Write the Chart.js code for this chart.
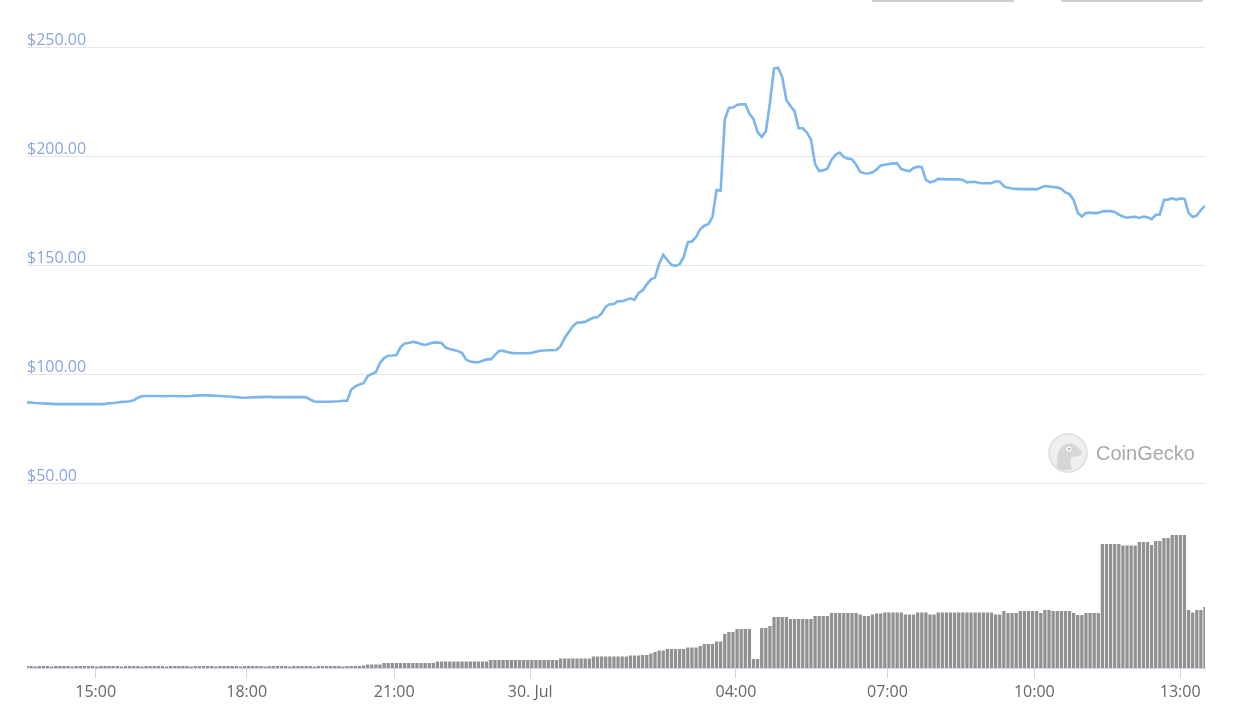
<!DOCTYPE html>
<html><head><meta charset="utf-8">
<script src="https://cdn.jsdelivr.net/npm/chart.js@4.4.0/dist/chart.umd.min.js"></script>
<style>
html,body{margin:0;padding:0;background:#fff;}
#wrap{position:relative;width:1234px;height:717px;overflow:hidden;background:#fff;}
canvas{position:absolute;left:0;top:0;}
.btnline{position:absolute;top:0;height:2px;background:#cfcfcf;}
#logo{position:absolute;left:1048px;top:433px;height:40px;display:flex;align-items:center;}
#logo span{font-family:"Liberation Sans",Arial,sans-serif;font-size:20px;color:#a9a9a9;margin-left:8px;}
</style></head>
<body>
<div id="wrap">
<canvas id="c" width="1234" height="717"></canvas>
<div class="btnline" style="left:872px;width:142px"></div>
<div class="btnline" style="left:1061px;width:142px"></div>
<div id="logo">
<svg width="40" height="40" viewBox="0 0 40 40">
<circle cx="20" cy="20" r="19" fill="#efefef" stroke="#dedede" stroke-width="1.5"/>
<path d="M9 35 C8 24 10 13 19 11 C25 10 29 13 31 16 C34 17 35 20 33 22 C31 24 27 23 24 24 C22 26 22 30 24 36 C18 38 12 37 9 35 Z" fill="#d6d6d6"/>
<circle cx="21" cy="16" r="2.6" fill="#fff"/>
<circle cx="21.3" cy="16" r="1.3" fill="#b5b5b5"/>
</svg>
<span>CoinGecko</span>
</div>
</div>
<script>
// Price (USD) for each 5-minute point
const price = [
87.0,86.9,86.7,86.6,86.5,86.4,86.3,86.2,86.2,86.2,
86.2,86.2,86.2,86.2,86.2,86.2,86.2,86.2,86.2,86.3,
86.6,86.7,86.9,87.2,87.3,87.5,87.9,89.1,89.8,89.9,
89.9,89.9,89.9,89.8,89.8,89.9,89.9,89.8,89.8,89.8,
89.9,90.1,90.2,90.2,90.2,90.1,90.0,89.9,89.8,89.7,
89.6,89.4,89.2,89.1,89.2,89.3,89.4,89.4,89.5,89.5,
89.4,89.4,89.4,89.4,89.4,89.4,89.4,89.4,89.3,88.3,
87.4,87.3,87.3,87.3,87.3,87.4,87.5,87.7,87.7,92.9,
94.3,95.2,95.8,99.0,100.0,100.9,105.1,107.3,108.4,108.5,
108.7,112.2,114.0,114.2,114.8,114.4,113.8,113.3,113.9,114.4,
114.5,114.2,112.1,111.5,111.0,110.5,109.6,106.6,105.7,105.4,
105.4,106.1,106.7,106.7,108.7,110.6,110.6,110.1,109.7,109.5,
109.5,109.5,109.5,109.7,110.2,110.7,110.8,110.9,110.9,111.0,
112.8,116.5,119.3,122.0,123.5,123.7,123.9,125.0,125.8,126.1,
127.8,130.9,132.0,132.1,133.5,133.4,134.0,134.7,134.0,137.2,
138.4,141.1,143.4,144.2,150.5,154.7,152.3,150.1,149.6,150.4,
153.7,160.5,160.8,162.8,166.4,168.0,168.7,172.0,184.4,184.1,
216.7,222.0,222.2,223.4,223.7,223.7,219.4,216.9,211.0,208.8,
211.3,224.3,240.1,240.5,236.2,225.7,222.9,220.6,212.7,212.7,
210.8,207.5,196.3,193.1,193.4,194.2,198.2,200.6,201.6,199.6,
198.8,198.5,196.0,192.7,192.1,192.0,192.5,193.8,195.7,196.0,
196.3,196.6,196.6,194.0,193.5,193.1,194.5,195.1,194.9,189.0,
187.9,188.4,189.5,189.4,189.3,189.3,189.3,189.3,189.0,187.9,
188.1,188.2,187.6,187.5,187.5,187.5,188.4,188.2,186.2,185.4,
185.1,184.9,184.8,184.8,184.8,184.8,184.7,185.5,186.2,186.0,
185.8,185.6,184.9,183.3,182.5,179.8,174.0,172.2,173.8,174.0,
173.8,173.9,174.6,174.7,174.7,174.3,173.1,172.2,171.7,172.0,
172.1,171.6,172.2,171.9,171.0,173.0,173.2,179.8,180.0,180.6,
180.0,180.5,180.4,173.9,172.0,172.7,175.2,177.1
];
// Volume (million USD) for each point
const volume = [
0.2,0.2,0.15,0.2,0.2,0.2,0.15,0.2,0.2,0.2,
0.2,0.15,0.2,0.2,0.2,0.2,0.2,0.15,0.2,0.2,
0.2,0.2,0.2,0.15,0.2,0.2,0.2,0.2,0.15,0.2,
0.2,0.2,0.2,0.2,0.15,0.2,0.2,0.2,0.2,0.2,
0.15,0.2,0.2,0.2,0.2,0.2,0.15,0.2,0.2,0.2,
0.2,0.2,0.15,0.2,0.2,0.2,0.2,0.2,0.15,0.2,
0.2,0.2,0.2,0.2,0.15,0.2,0.2,0.2,0.2,0.2,
0.15,0.2,0.2,0.2,0.2,0.2,0.2,0.15,0.2,0.2,
0.2,0.2,0.25,0.35,0.35,0.35,0.35,0.5,0.5,0.5,
0.5,0.5,0.5,0.5,0.5,0.5,0.5,0.5,0.5,0.5,
0.65,0.65,0.65,0.65,0.65,0.65,0.65,0.65,0.65,0.65,
0.65,0.65,0.65,0.8,0.8,0.8,0.8,0.8,0.8,0.8,
0.8,0.8,0.8,0.8,0.8,0.8,0.8,0.8,0.8,0.8,
0.95,0.95,0.95,0.95,0.95,0.95,0.95,0.95,1.15,1.15,
1.15,1.15,1.15,1.15,1.15,1.15,1.15,1.25,1.25,1.25,
1.3,1.3,1.45,1.6,1.75,1.75,1.9,1.9,1.9,1.9,
1.9,2.05,2.05,2.05,2.2,2.4,2.4,2.4,2.65,2.65,
3.4,3.6,3.6,3.9,3.9,3.9,3.9,0.9,0.9,4.0,
4.0,4.2,5.1,5.1,5.1,5.1,4.9,4.9,4.9,4.9,
4.9,4.9,5.2,5.2,5.2,5.2,5.5,5.5,5.5,5.5,
5.5,5.5,5.5,5.35,5.2,5.2,5.35,5.45,5.45,5.55,
5.55,5.55,5.55,5.55,5.35,5.35,5.35,5.55,5.55,5.55,
5.35,5.35,5.55,5.55,5.55,5.55,5.55,5.55,5.55,5.55,
5.55,5.55,5.55,5.55,5.55,5.55,5.35,5.35,5.7,5.5,
5.5,5.5,5.7,5.7,5.7,5.7,5.7,5.5,5.8,5.8,
5.7,5.7,5.7,5.7,5.7,5.5,5.3,5.3,5.5,5.5,
5.5,5.5,12.4,12.4,12.4,12.4,12.4,12.25,12.25,12.25,
12.25,12.6,12.6,12.6,12.3,12.7,12.7,13.0,13.0,13.3,
13.3,13.3,13.3,5.8,5.55,5.8,5.8,6.1
];
// Time labels and where they fall along the (ordinal) point sequence
const tickLabels = ['15:00','18:00','21:00','30. Jul','04:00','07:00','10:00','13:00'];
const tickPos = [16.74, 53.52, 89.45, 122.58, 172.72, 209.62, 245.43, 280.95];
const priceTicks = [50, 100, 150, 200, 250];

const idx = price.map((_, i) => i);
const fontFam = '"Open Sans", "Noto Sans", sans-serif';

new Chart(document.getElementById('c'), {
  type: 'bar',
  data: {
    datasets: [
      {
        type: 'line',
        data: idx.map(i => ({x: i, y: price[i]})),
        yAxisID: 'y',
        borderColor: '#7cb5ec',
        borderWidth: 2.6,
        pointRadius: 0,
        tension: 0,
        fill: false,
        order: 0
      },
      {
        type: 'bar',
        data: idx.map(i => ({x: i, y: volume[i]})),
        yAxisID: 'y2',
        backgroundColor: '#919191',
        borderWidth: 0,
        barPercentage: 0.8,
        categoryPercentage: 1,
        order: 1
      }
    ]
  },
  options: {
    responsive: false,
    animation: false,
    layout: {padding: {left: 0, right: 29, top: 0, bottom: 0}},
    plugins: {legend: {display: false}, tooltip: {enabled: false}},
    scales: {
      x: {
        type: 'linear', min: 0, max: price.length - 1, offset: false,
        grid: {offset: false, drawOnChartArea: false, drawTicks: true, tickLength: 10, color: '#ccd6eb'},
        border: {display: true, color: '#ccd6eb', width: 1},
        ticks: {autoSkip: false, maxRotation: 0, minRotation: 0, padding: 5, color: '#666666',
          font: {family: fontFam, size: 16},
          callback: (v, i) => tickLabels[i]},
        afterBuildTicks: s => { s.ticks = tickPos.map(v => ({value: v})); },
        afterFit: s => { s.height = 49; s.paddingLeft = 0; s.paddingRight = 0; }
      },
      y: {
        position: 'left', min: -34.86, max: 271.56,
        grid: {color: '#e6e6e6', drawTicks: false, lineWidth: 1},
        border: {display: false},
        ticks: {mirror: true, padding: 0, labelOffset: -7, color: '#8ea3e6',
          font: {family: fontFam, size: 16},
          callback: v => '$' + Number(v).toFixed(2)},
        afterBuildTicks: s => { s.ticks = priceTicks.map(v => ({value: v})); },
        afterFit: s => { s.width = 27; s.paddingTop = 0; s.paddingBottom = 0; }
      },
      y2: {display: false, min: 0, max: 66.8}
    }
  }
});
</script>
</body></html>
